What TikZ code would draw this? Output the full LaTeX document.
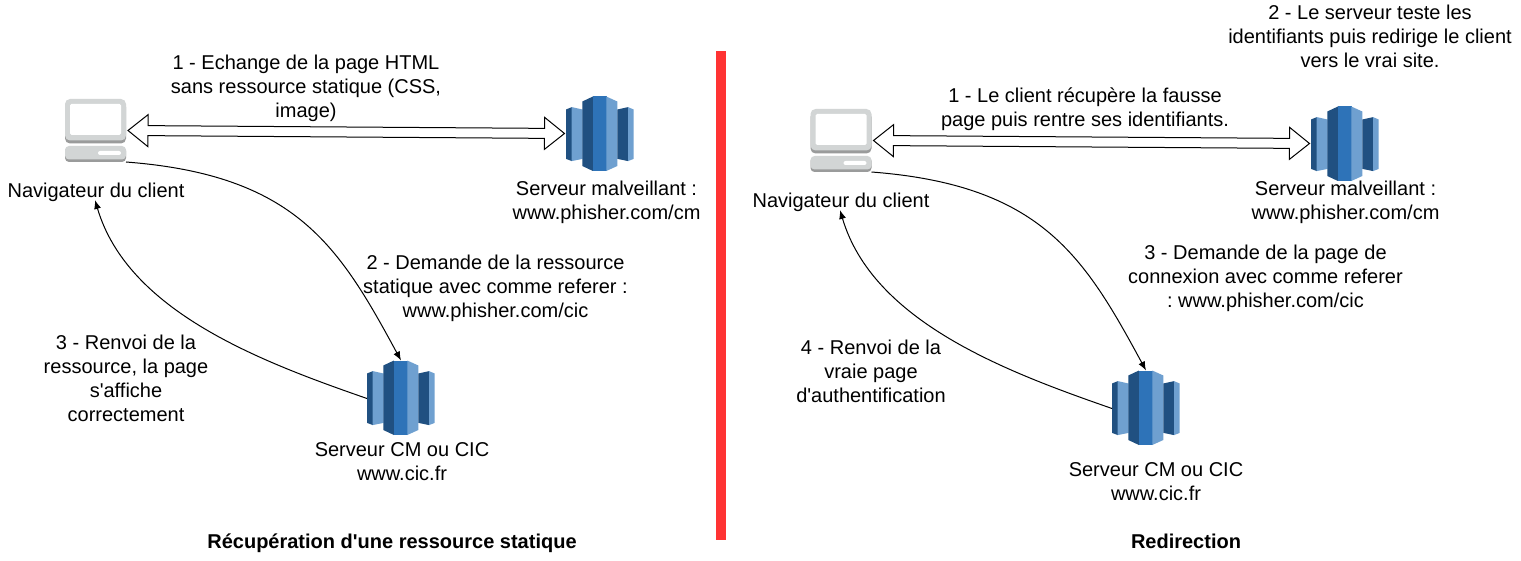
\documentclass[tikz,border=0pt]{standalone}
\usepackage{fontspec}
\setmainfont{Liberation Sans}[Ligatures=TeXOff]
\usetikzlibrary{calc,arrows.meta}
\definecolor{awsdark}{HTML}{205081}
\definecolor{awsmid}{HTML}{2E73B8}
\definecolor{awslight}{HTML}{6FA0D0}
\definecolor{pclight}{HTML}{D2D5D5}
\definecolor{pcdark}{HTML}{9A9B9B}
\definecolor{barred}{HTML}{FF3333}
\tikzset{
  x=1pt,y=-1pt,
  lbl/.style={align=center,font=\fontsize{20}{24}\selectfont\frenchspacing,inner sep=0pt,text=black},
  ttl/.style={lbl,font=\fontsize{20}{24}\selectfont\bfseries},
  iconpc/.style={minimum width=61pt,minimum height=63pt,inner sep=0pt,outer sep=0pt},
  iconsrv/.style={minimum width=68pt,minimum height=76pt,inner sep=0pt,outer sep=0pt},
  curved/.style={draw=black,line width=1pt,-{Latex[length=9pt,width=7pt]}},
  block/.style={draw=black,fill=white,line width=1pt,line join=miter},
}
\newcommand{\pcicon}[1]{%
  \begin{scope}[shift={(#1.north west)}]
    \fill[pcdark,rounded corners=5pt] (0,3) rectangle (61,44.5);
    \fill[pclight,rounded corners=5pt] (0,0) rectangle (61,41.5);
    \fill[white,rounded corners=1.5pt] (5,5) rectangle (56,36);
    \fill[pcdark,rounded corners=4pt] (0,48) rectangle (61,63);
    \fill[pclight,rounded corners=4pt] (0,47) rectangle (61,60.5);
    \fill[white,rounded corners=2pt] (33,52) rectangle (56,56);
  \end{scope}}
\newcommand{\srvicon}[1]{%
  \begin{scope}[shift={(#1.north west)}]
    \fill[awsdark] (0,13) -- (5.9,10.6) -- (5.9,64.6) -- (0,62.4) -- cycle;
    \fill[awslight] (5.7,10.6) -- (16.5,13) -- (16.5,62.4) -- (5.7,64.6) -- cycle;
    \fill[awsdark] (16.3,5) -- (26.9,0) -- (26.9,74.5) -- (16.3,69.5) -- cycle;
    \fill[awsmid] (26.7,0) -- (40.5,0) -- (40.5,74.5) -- (26.7,74.5) -- cycle;
    \fill[awslight] (40.3,0) -- (51.3,5) -- (51.3,69.5) -- (40.3,74.5) -- cycle;
    \fill[awsdark] (51.3,13) -- (62.2,10.6) -- (62.2,64.6) -- (51.3,62.4) -- cycle;
    \fill[awslight] (62,10.6) -- (67.7,13) -- (67.7,62.4) -- (62,64.6) -- cycle;
  \end{scope}}
\newcommand{\blockarrow}[2]{%
  \draw[block]
    (#1)
    -- ($(#1)!20pt!(#2)!16pt!90:(#2)$)
    -- ($(#1)!20pt!(#2)!5pt!90:(#2)$)
    -- ($(#2)!20pt!(#1)!5pt!-90:(#1)$)
    -- ($(#2)!20pt!(#1)!16pt!-90:(#1)$)
    -- (#2)
    -- ($(#2)!20pt!(#1)!16pt!90:(#1)$)
    -- ($(#2)!20pt!(#1)!5pt!90:(#1)$)
    -- ($(#1)!20pt!(#2)!5pt!-90:(#2)$)
    -- ($(#1)!20pt!(#2)!16pt!-90:(#2)$)
    -- cycle;}
\begin{document}
\begin{tikzpicture}
\useasboundingbox (0,0) rectangle (1521,561);
\fill[white] (0,0) rectangle (1521,561);
\fill[barred] (716,51) rectangle (726,540);

% left panel
\node[iconpc] (pcA) at (95.5,130.5) {};
\node[iconsrv] (malA) at (600,134.5) {};
\node[iconsrv] (cicA) at (401,398.5) {};
\pcicon{pcA}\srvicon{malA}\srvicon{cicA}
\node[lbl] (navA) at (96,192) {Navigateur du client};
\coordinate (navAin) at (95,200);
\coordinate (arrAl) at ($(pcA.east)+(2,0)$);
\coordinate (arrAr) at ($(malA.west)+(-1.5,-1)$);
\node[lbl] (malAt) at (606.5,202.5) {Serveur malveillant :\\www.phisher.com/cm};
\node[lbl] (cicAt) at (402,461.5) {Serveur CM ou CIC\\www.cic.fr};
\node[lbl] (a1) at (306,88) {1 - Echange de la page HTML\\sans ressource statique (CSS,\\image)};
\node[lbl] (a2) at (495.5,288) {2 - Demande de la ressource\\statique avec comme referer :\\www.phisher.com/cic};
\node[lbl] (a3) at (126,378) {3 - Renvoi de la\\ressource, la page\\s'affiche\\correctement};
\node[ttl] (ta) at (392,543) {Récupération d'une ressource statique};
\blockarrow{arrAl}{arrAr}
\draw[curved] (pcA.south east) .. controls (296,175) and (339,246) .. (cicA.north);
\draw[curved] (cicA.west) .. controls (262,362) and (128,312) .. (navAin);

% right panel
\node[iconpc] (pcB) at (841,140.5) {};
\node[iconsrv] (malB) at (1345,144.5) {};
\node[iconsrv] (cicB) at (1146,408.5) {};
\pcicon{pcB}\srvicon{malB}\srvicon{cicB}
\node[lbl] (navB) at (841,202) {Navigateur du client};
\coordinate (navBin) at (840,210);
\coordinate (arrBl) at ($(pcB.east)+(2,0)$);
\coordinate (arrBr) at ($(malB.west)+(-1.5,-1)$);
\node[lbl] (malBt) at (1345.5,202.5) {Serveur malveillant :\\www.phisher.com/cm};
\node[lbl] (cicBt) at (1156,481.5) {Serveur CM ou CIC\\www.cic.fr};
\node[lbl] (b1) at (1085,109) {1 - Le client récupère la fausse\\page puis rentre ses identifiants.};
\node[lbl] (b2) at (1370,36) {2 - Le serveur teste les\\identifiants puis redirige le client\\vers le vrai site.};
\node[lbl] (b3) at (1265.5,278) {3 - Demande de la page de\\connexion avec comme referer\\: www.phisher.com/cic};
\node[lbl] (b4) at (871,371) {4 - Renvoi de la\\vraie page\\d'authentification};
\node[ttl] (tb) at (1186,541) {Redirection};
\blockarrow{arrBl}{arrBr}
\draw[curved] (pcB.south east) .. controls (1041,185) and (1084,256) .. (cicB.north);
\draw[curved] (cicB.west) .. controls (1007,372) and (873,322) .. (navBin);
\end{tikzpicture}
\end{document}
